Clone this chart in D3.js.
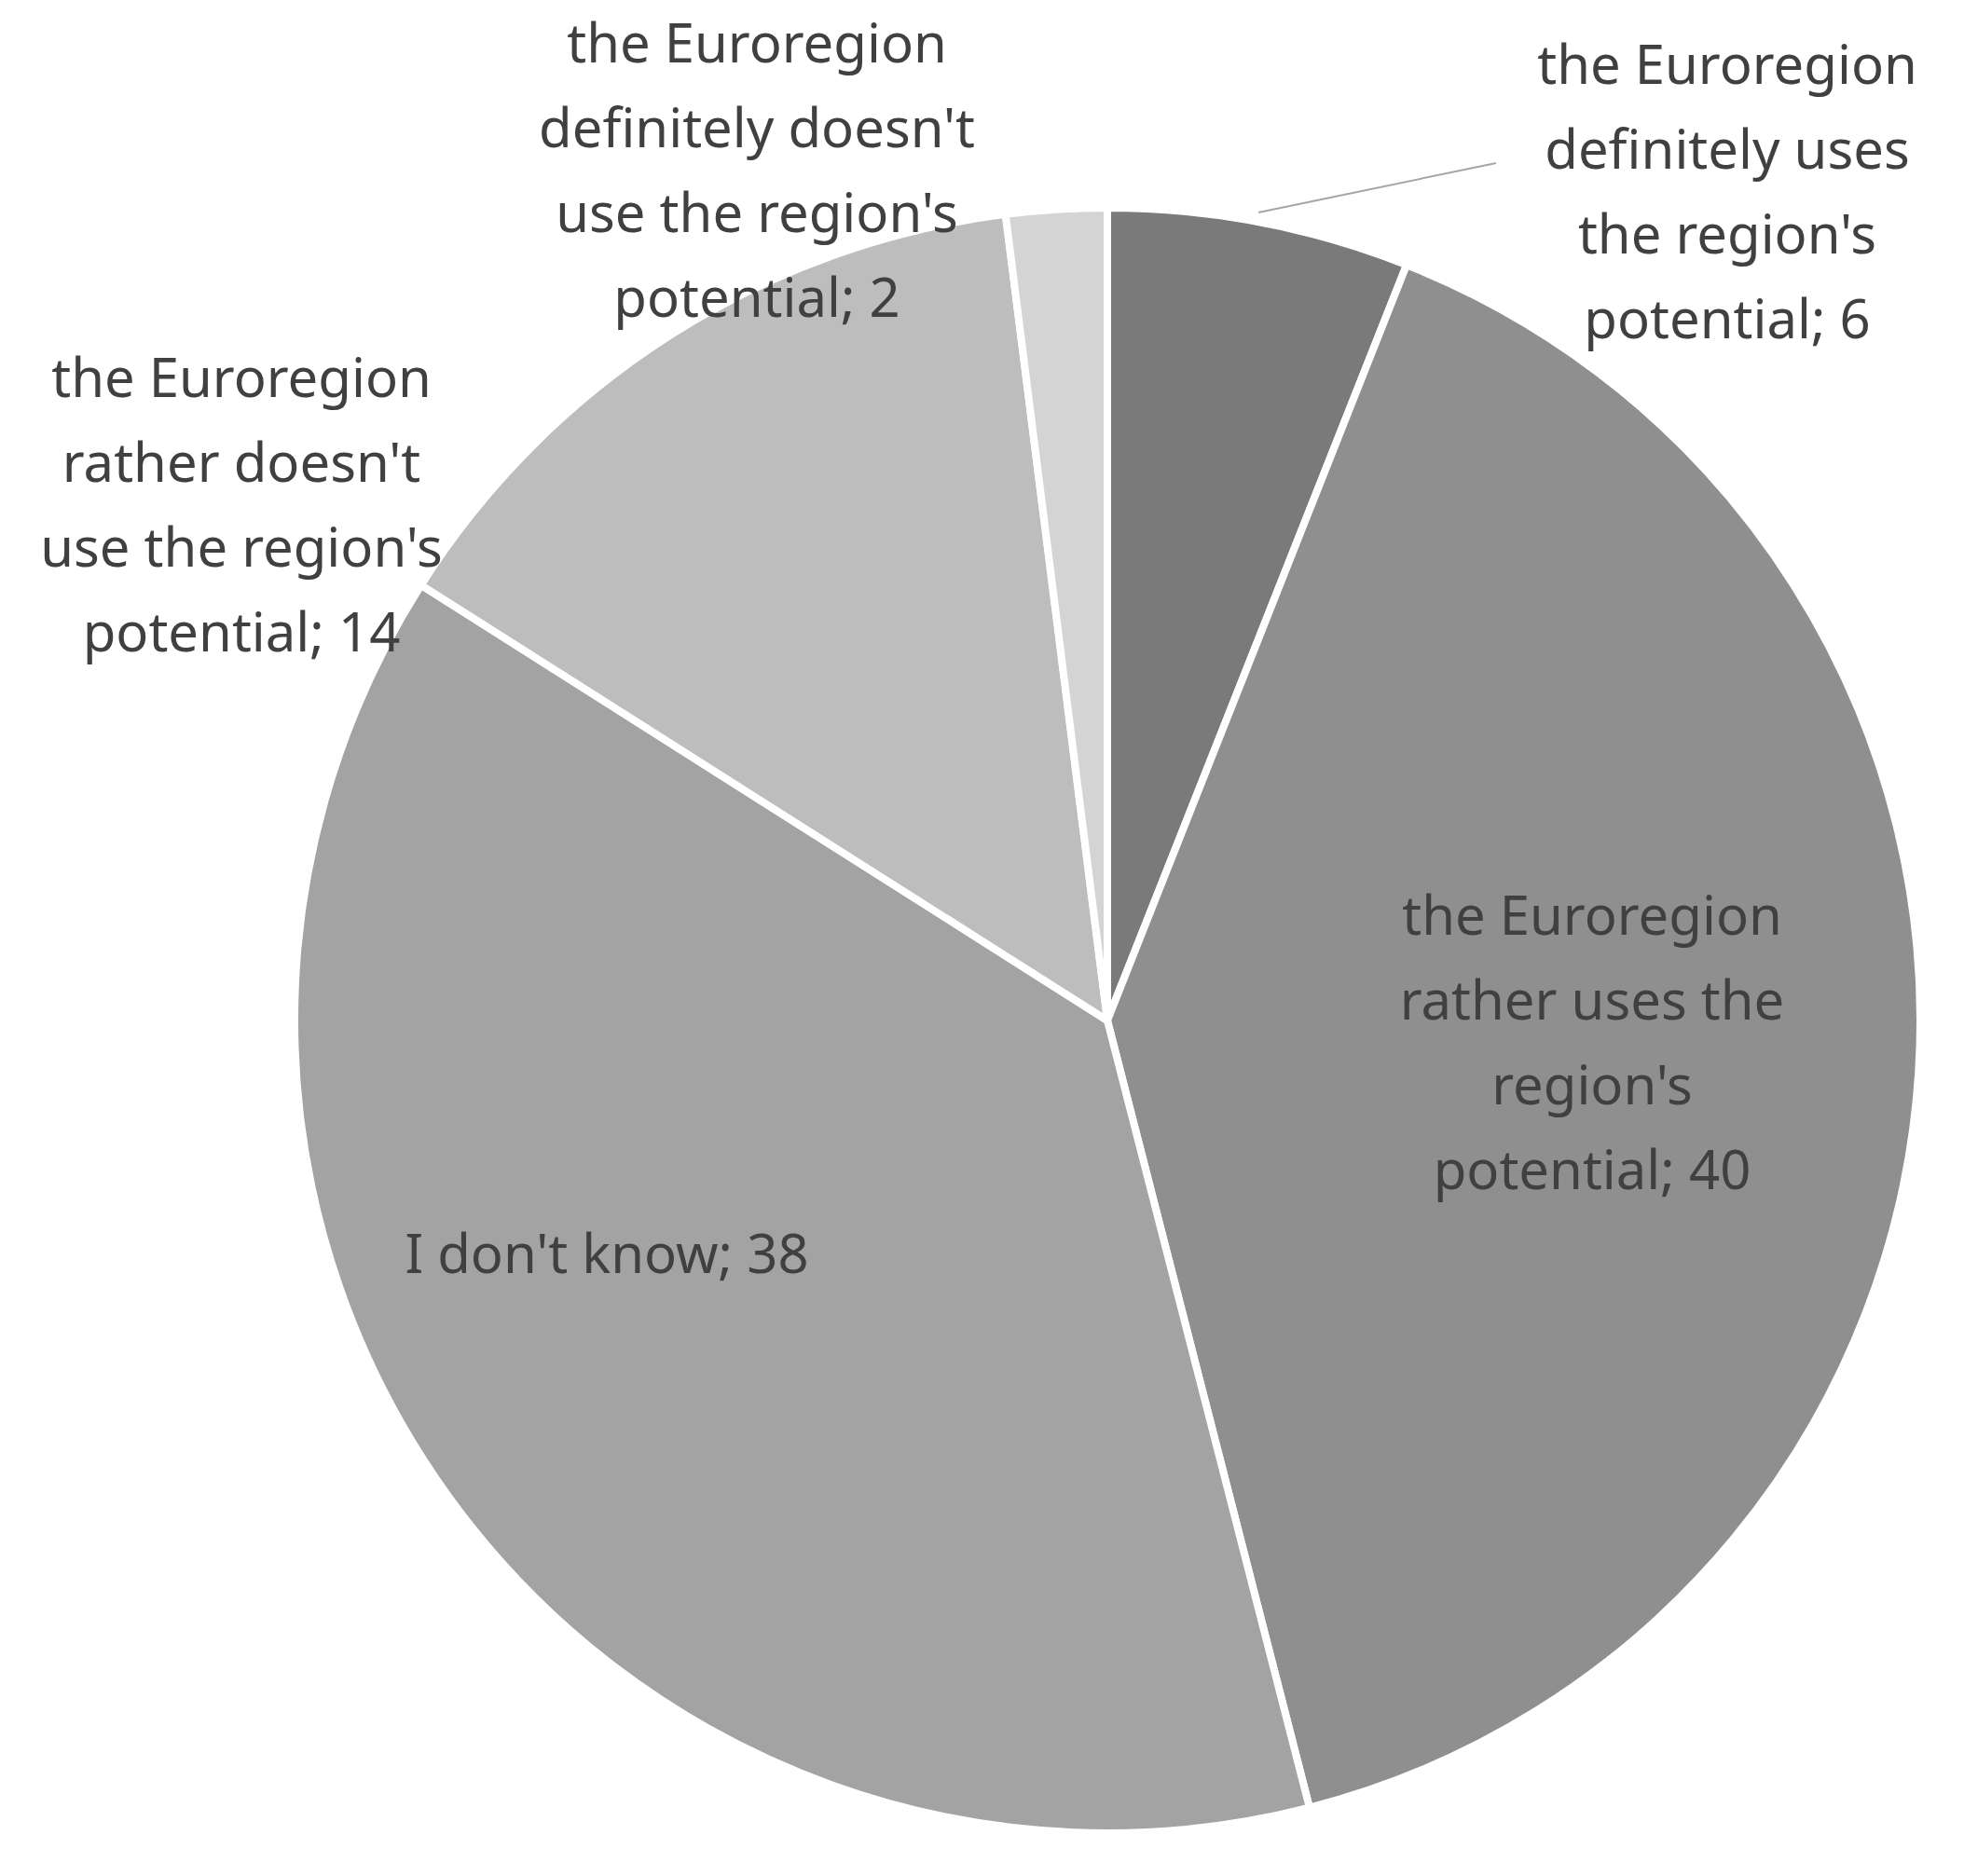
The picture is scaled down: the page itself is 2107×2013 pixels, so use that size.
<!DOCTYPE html>
<html><head><meta charset="utf-8">
<script src="https://d3js.org/d3.v7.min.js"></script>
<style>body{margin:0;background:#fff}</style>
</head><body>
<script>
const names = ["definitely uses", "rather uses", "I don't know", "rather doesn't", "definitely doesn't"];
const values = [6, 40, 38, 14, 2];
const colors = ["#7a7a7a", "#8f8f8f", "#a3a3a3", "#bdbdbd", "#d4d4d4"];
const labelLines = [
  ["the Euroregion", "definitely uses", "the region's", "potential; 6"],
  ["the Euroregion", "rather uses the", "region's", "potential; 40"],
  ["I don't know; 38"],
  ["the Euroregion", "rather doesn't", "use the region's", "potential; 14"],
  ["the Euroregion", "definitely doesn't", "use the region's", "potential; 2"]
];
const labelPos = [[1853, 74], [1708, 987], [651, 1350], [259, 410], [812, 51]];

const W = 2107, H = 2013, cx = 1188, cy = 1095, r = 872, lh = 91;
const svg = d3.select("body").append("svg").attr("width", W).attr("height", H);

const pie = d3.pie().sort(null).value(d => d);
const arc = d3.arc().innerRadius(0).outerRadius(r);
const g = svg.append("g").attr("transform", `translate(${cx},${cy})`);
g.selectAll("path").data(pie(values)).enter().append("path")
  .attr("d", arc).attr("fill", (d, i) => colors[i])
  .attr("stroke", "#fff").attr("stroke-width", 8).attr("stroke-linejoin", "round");

// leader line for the small slice
svg.append("line").attr("x1", 1350).attr("y1", 228).attr("x2", 1605).attr("y2", 175)
  .attr("stroke", "#a6a6a6").attr("stroke-width", 2);

labelLines.forEach((lines, i) => {
  const t = svg.append("text").attr("text-anchor", "middle")
    .attr("font-family", "'Noto Sans', sans-serif").attr("font-size", 58).attr("fill", "#404040");
  lines.forEach((s, j) => t.append("tspan").attr("x", labelPos[i][0])
    .attr("y", labelPos[i][1] + j * lh).attr("dominant-baseline", "middle").text(s));
});
</script>
</body></html>
